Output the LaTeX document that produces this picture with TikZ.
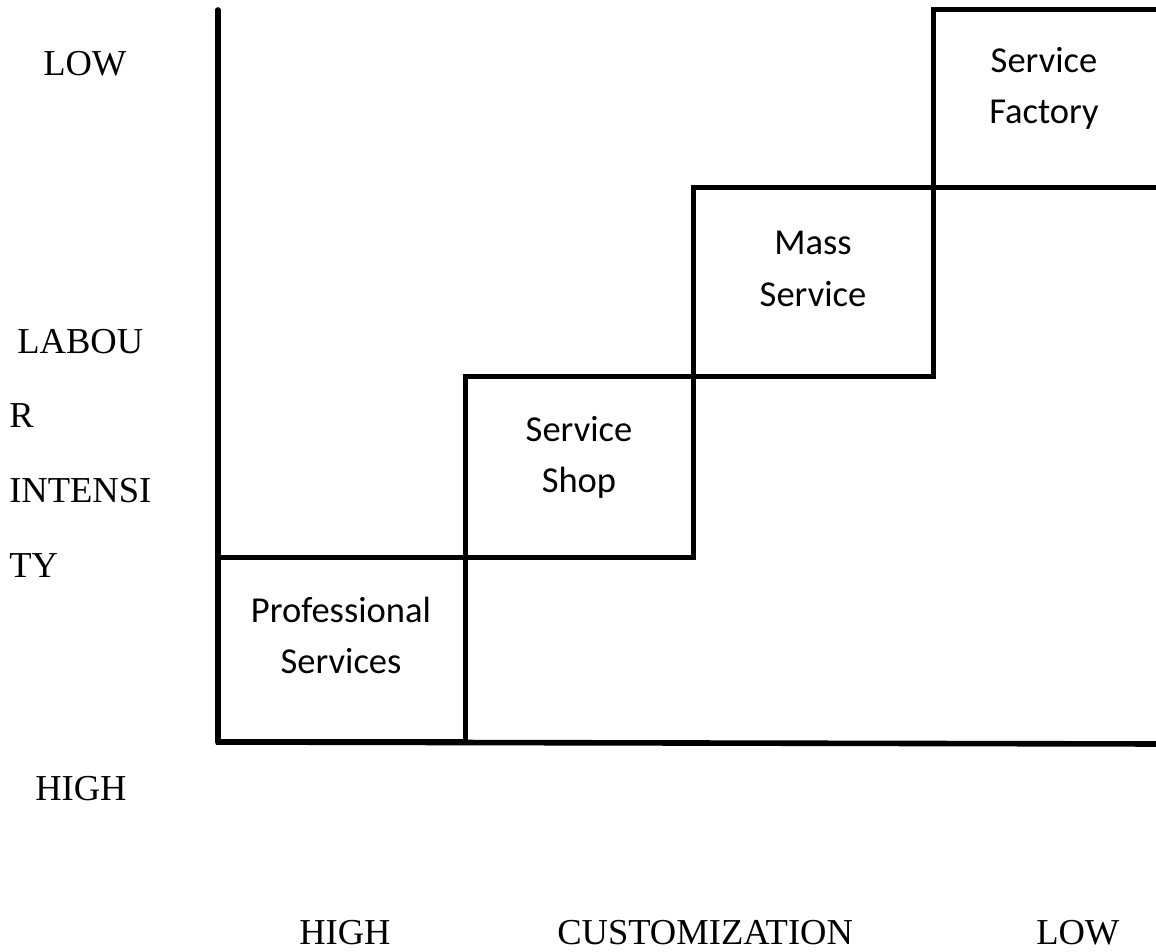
\documentclass[tikz,border=0pt]{standalone}
\usepackage{fontspec}
\setmainfont{Liberation Serif}
\newfontfamily\boxfont{Carlito}
\begin{document}
\begin{tikzpicture}[x=0.75pt, y=-0.75pt,
  cell/.style={draw, line width=3.75pt, inner sep=0pt, outer sep=0pt, anchor=north west},
  axisline/.style={line width=4.2pt},
  celltext/.style={font=\boxfont\fontsize{27.4}{33}\selectfont, anchor=base, inner sep=0pt},
  axistext/.style={font=\fontsize{27.4}{33}\selectfont, anchor=base west, inner sep=0pt}]
  \path[use as bounding box, clip] (0,0) rectangle (1156,952);
  \fill[white] (0,0) rectangle (1156,952);

  % staircase of service types
  \node[cell, minimum width=185.25pt, minimum height=138pt] (prof) at (218,557) {};
  \node[cell, minimum width=171pt, minimum height=135.75pt] (shop) at (465,376) {};
  \node[cell, minimum width=180pt, minimum height=141pt] (mass) at (693,188) {};
  \node[cell, minimum width=174pt, minimum height=133.5pt] (fact) at (933,10) {};

  \node[celltext] (prof1) at (341,622) {Professional};
  \node[celltext] (prof2) at (341,673) {Services};
  \node[celltext] (shop1) at (579,441) {Service};
  \node[celltext] (shop2) at (579,492) {Shop};
  \node[celltext] (mass1) at (813,255) {Mass};
  \node[celltext] (mass2) at (813,306) {Service};
  \node[celltext] (fact1) at (1044,73) {Service};
  \node[celltext] (fact2) at (1044,124) {Factory};

  % axes
  \coordinate (ytop) at (218,10);
  \coordinate (origin) at (218,742);
  \coordinate (xend) at (1162,744);
  \draw[axisline, line cap=round] (ytop) -- (origin);
  \draw[axisline] ([xshift=-1.5pt]origin) -- (xend);

  % vertical axis labels
  \node[axistext] (ylow) at (43,76) {LOW};
  \node[axistext] (yl1) at (8,353) {\ LABOU};
  \node[axistext] (yl2) at (9,427) {R};
  \node[axistext] (yl3) at (9,502) {INTENSI};
  \node[axistext] (yl4) at (9,577) {TY};
  \node[axistext] (yhigh) at (35,800) {HIGH};

  % horizontal axis labels
  \node[axistext] (xhigh) at (299,944) {HIGH};
  \node[axistext] (xlab) at (557,944) {CUSTOMIZATION};
  \node[axistext] (xlow) at (1036,944) {LOW};
\end{tikzpicture}
\end{document}
